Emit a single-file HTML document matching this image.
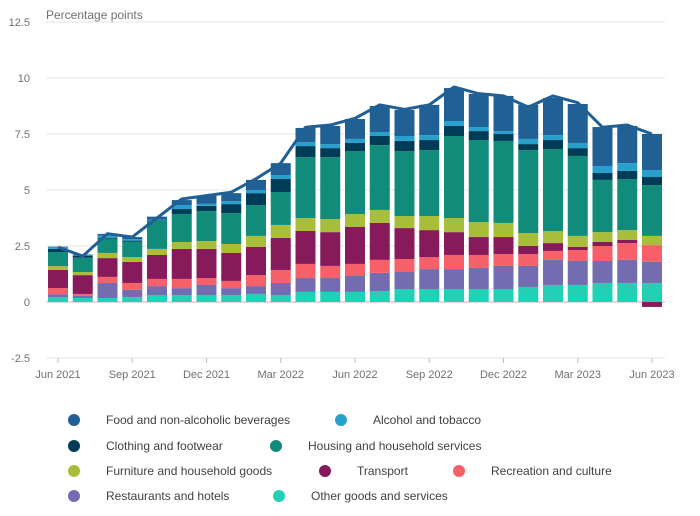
<!DOCTYPE html>
<html><head><meta charset="utf-8"><style>
body{margin:0;background:#fff;font-family:"Liberation Sans",sans-serif;}
svg text{font-family:"Liberation Sans",sans-serif;}
</style></head><body>
<svg id="chart" width="700" height="511" xmlns="http://www.w3.org/2000/svg">
<g id="grid"></g><g id="bars"></g><g id="line"></g><g id="axes"></g><g id="legend"></g>
</svg>
<script>
const months=["Jun 2021","Jul 2021","Aug 2021","Sep 2021","Oct 2021","Nov 2021","Dec 2021","Jan 2022","Feb 2022","Mar 2022","Apr 2022","May 2022","Jun 2022","Jul 2022","Aug 2022","Sep 2022","Oct 2022","Nov 2022","Dec 2022","Jan 2023","Feb 2023","Mar 2023","Apr 2023","May 2023","Jun 2023"];
const xTickLabels=["Jun 2021","Sep 2021","Dec 2021","Mar 2022","Jun 2022","Sep 2022","Dec 2022","Mar 2023","Jun 2023"];
const yTicks=[-2.5,0,2.5,5,7.5,10,12.5];
const other=[0.22,0.18,0.18,0.22,0.31,0.31,0.31,0.31,0.36,0.31,0.45,0.45,0.45,0.49,0.58,0.58,0.58,0.58,0.58,0.67,0.76,0.76,0.85,0.85,0.85];
const restaurants=[0.13,0.09,0.67,0.32,0.40,0.31,0.45,0.31,0.35,0.54,0.62,0.62,0.71,0.81,0.76,0.89,0.89,0.94,1.03,0.94,1.12,1.07,0.98,1.03,0.94];
const recreation=[0.27,0.09,0.27,0.31,0.32,0.41,0.31,0.32,0.49,0.58,0.63,0.54,0.54,0.58,0.58,0.53,0.63,0.58,0.53,0.53,0.40,0.49,0.67,0.75,0.75];
const transport=[0.81,0.84,0.84,0.94,1.07,1.34,1.30,1.25,1.26,1.43,1.47,1.51,1.65,1.65,1.38,1.21,1.02,0.80,0.76,0.36,0.35,0.14,0.18,0.14,-0.22];
const furniture=[0.17,0.14,0.23,0.21,0.27,0.31,0.35,0.40,0.49,0.58,0.58,0.58,0.58,0.58,0.54,0.63,0.63,0.67,0.63,0.58,0.54,0.49,0.44,0.44,0.41];
const housing=[0.63,0.64,0.64,0.69,1.25,1.25,1.34,1.38,1.38,1.47,2.72,2.77,2.81,2.89,2.90,2.94,3.66,3.66,3.66,3.70,3.66,3.57,2.33,2.28,2.27];
const clothing=[0.14,0.09,0.04,0.05,0.02,0.22,0.23,0.40,0.53,0.58,0.49,0.40,0.36,0.41,0.45,0.45,0.45,0.40,0.31,0.27,0.40,0.35,0.31,0.36,0.36];
const alcohol=[0.07,0.03,0.09,0.07,0.04,0.18,0.09,0.13,0.14,0.18,0.18,0.18,0.18,0.18,0.22,0.22,0.22,0.18,0.13,0.23,0.22,0.23,0.31,0.35,0.31];
const food=[0.03,0.02,0.08,0.09,0.13,0.22,0.36,0.36,0.45,0.53,0.63,0.81,0.89,1.16,1.16,1.35,1.47,1.48,1.57,1.52,1.66,1.74,1.74,1.66,1.61];
const total=[2.45,2.05,3.05,2.9,3.75,4.6,4.75,4.9,5.5,6.2,7.8,7.9,8.2,8.8,8.6,8.8,9.6,9.3,9.2,8.7,9.2,8.9,7.8,7.9,7.5];

const series=[
 {name:"Other goods and services",vals:other,color:"#22d0b6",key:"other"},
 {name:"Restaurants and hotels",vals:restaurants,color:"#746cb1",key:"restaurants"},
 {name:"Recreation and culture",vals:recreation,color:"#f66068",key:"recreation"},
 {name:"Transport",vals:transport,color:"#871a5b",key:"transport"},
 {name:"Furniture and household goods",vals:furniture,color:"#a8bd3a",key:"furniture"},
 {name:"Housing and household services",vals:housing,color:"#118c7b",key:"housing"},
 {name:"Clothing and footwear",vals:clothing,color:"#003c57",key:"clothing"},
 {name:"Alcohol and tobacco",vals:alcohol,color:"#27a0cc",key:"alcohol"},
 {name:"Food and non-alcoholic beverages",vals:food,color:"#206095",key:"food"}
];
const NS="http://www.w3.org/2000/svg";
function el(t,a,p){const e=document.createElementNS(NS,t);for(const k in a)e.setAttribute(k,a[k]);p.appendChild(e);return e;}
const y=v=>302-v*22.4;
const x=i=>58+i*24.75;
const grid=document.getElementById('grid'),axes=document.getElementById('axes');
yTicks.forEach(t=>{
 const l=el('line',{x1:46,x2:665,y1:y(t),y2:y(t),stroke:t===0?'#bcbcbc':'#e4e4e4','stroke-width':1},grid);
 
 
 const tx=el('text',{x:30,y:y(t)+4,'text-anchor':'end','font-size':11,fill:'#707071'},axes);
 tx.textContent=String(t);
 
 
});
const tt=el('text',{x:46,y:19,'font-size':12,fill:'#707071'},axes);
tt.textContent="Percentage points";


const bars=document.getElementById('bars');
months.forEach((m,i)=>{
 let pos=0,neg=0;
 series.forEach(s=>{
  const v=s.vals[i];let y0,y1;
  if(v>=0){y0=pos;y1=pos+v;pos=y1;}else{y0=neg+v;y1=neg;neg=y0;}
  const r=el('rect',{x:x(i)-10,y:y(y1),width:20,height:Math.max(0,y(y0)-y(y1)),fill:s.color},bars);
  
  
 });
 if(xTickLabels.includes(m)){
  el('line',{x1:x(i),x2:x(i),y1:358,y2:363,stroke:'#bcbcbc'},axes);
  const lt=el('text',{x:x(i),y:378,'text-anchor':'middle','font-size':11,fill:'#707071'},axes);
  lt.textContent=m;
  
  
 }
});
const pl=el('polyline',{points:total.map((v,i)=>x(i)+','+y(v)).join(' '),fill:'none',stroke:'#206095','stroke-width':3,'stroke-linejoin':'round'},document.getElementById('line'));


const leg=document.getElementById('legend');
const legPos=[["food",74,420],["alcohol",341,420],["clothing",74,446],["housing",276,446],["furniture",74,471],["transport",325,471],["recreation",459,471],["restaurants",74,496],["other",279,496]];
legPos.forEach(([k,cx,cy])=>{
 const s=series.find(q=>q.key===k);
 const g=el('g',{},leg);
 
 
 el('circle',{cx:cx,cy:cy,r:6,fill:s.color},g);
 const t=el('text',{x:cx+32,y:cy+4,'font-size':12,fill:'#414042'},g);
 t.textContent=s.name;
});
</script>
</body></html>
